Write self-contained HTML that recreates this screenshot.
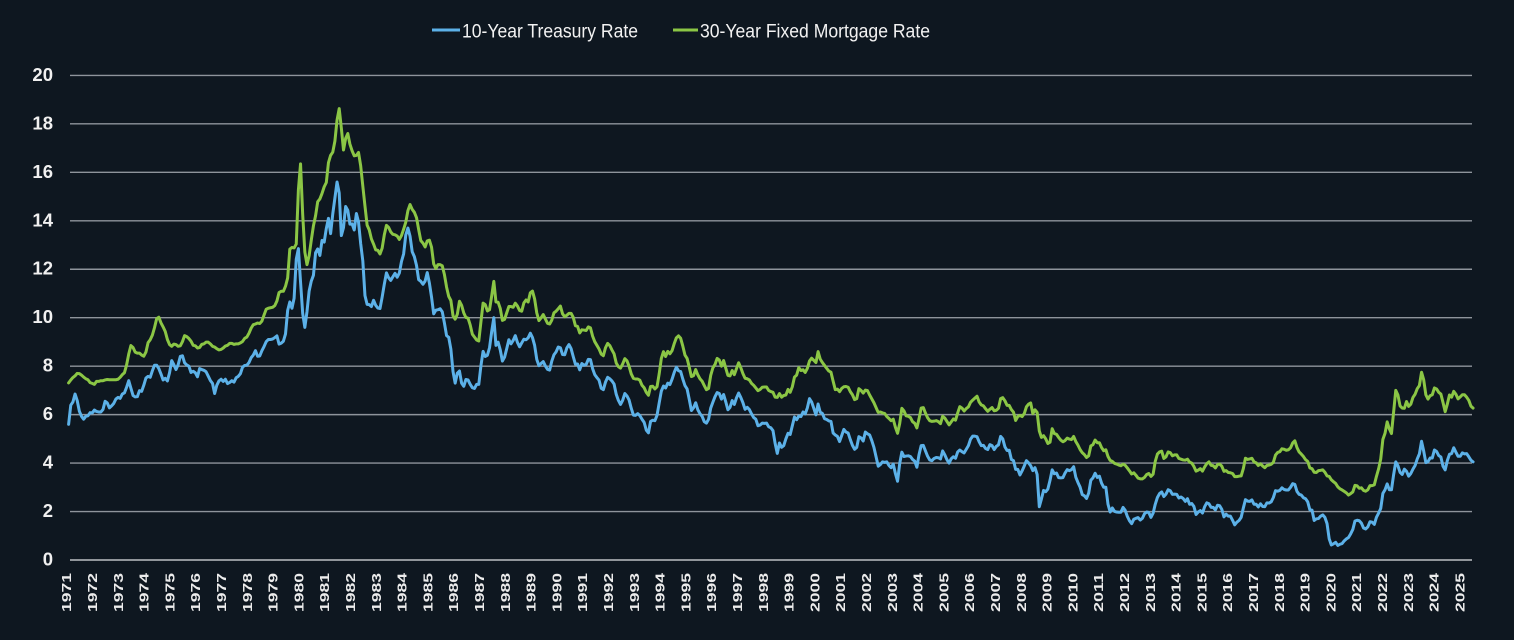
<!DOCTYPE html>
<html>
<head>
<meta charset="utf-8">
<style>
html,body{margin:0;padding:0;background:#0e1720;}
svg{display:block;}
.yl{font-family:"Liberation Sans",Arial,sans-serif;font-size:18.5px;font-weight:bold;fill:#f0f0f0;text-anchor:end;}
.xl{font-family:"Liberation Sans",Arial,sans-serif;font-size:12.5px;font-weight:bold;fill:#ececec;text-anchor:end;}
.lg{font-family:"Liberation Sans",Arial,sans-serif;font-size:19px;fill:#f2f2f2;}
</style>
</head>
<body>
<svg width="1514" height="640" viewBox="0 0 1514 640" xmlns="http://www.w3.org/2000/svg">
<rect x="0" y="0" width="1514" height="640" fill="#0e1720"/>

<!-- Legend -->
<line x1="432" y1="30" x2="460" y2="30" stroke="#5cb1e8" stroke-width="3"/>
<text class="lg" x="462" y="37.5" textLength="176" lengthAdjust="spacingAndGlyphs">10-Year Treasury Rate</text>
<line x1="673" y1="30" x2="698" y2="30" stroke="#8bc645" stroke-width="3"/>
<text class="lg" x="700" y="37.5" textLength="230" lengthAdjust="spacingAndGlyphs">30-Year Fixed Mortgage Rate</text>

<!-- Gridlines -->
<g stroke="#8e949b" stroke-width="1.4">
<line x1="70" y1="75.4" x2="1472" y2="75.4"/>
<line x1="70" y1="123.86" x2="1472" y2="123.86"/>
<line x1="70" y1="172.32" x2="1472" y2="172.32"/>
<line x1="70" y1="220.78" x2="1472" y2="220.78"/>
<line x1="70" y1="269.24" x2="1472" y2="269.24"/>
<line x1="70" y1="317.7" x2="1472" y2="317.7"/>
<line x1="70" y1="366.16" x2="1472" y2="366.16"/>
<line x1="70" y1="414.62" x2="1472" y2="414.62"/>
<line x1="70" y1="463.08" x2="1472" y2="463.08"/>
<line x1="70" y1="511.54" x2="1472" y2="511.54"/>
</g>
<line x1="70" y1="560" x2="1472" y2="560" stroke="#a4a8ad" stroke-width="1.8"/>

<!-- Y labels -->
<text class="yl" x="53" y="81">20</text>
<text class="yl" x="53" y="129.4">18</text>
<text class="yl" x="53" y="177.8">16</text>
<text class="yl" x="53" y="226.3">14</text>
<text class="yl" x="53" y="274.7">12</text>
<text class="yl" x="53" y="323.2">10</text>
<text class="yl" x="53" y="371.7">8</text>
<text class="yl" x="53" y="420.1">6</text>
<text class="yl" x="53" y="468.6">4</text>
<text class="yl" x="53" y="517">2</text>
<text class="yl" x="53" y="565.5">0</text>

<!-- X labels -->
<g>
<text class="xl" transform="translate(71.2,573) rotate(-90)" textLength="39" lengthAdjust="spacingAndGlyphs">1971</text>
<text class="xl" transform="translate(97.0,573) rotate(-90)" textLength="39" lengthAdjust="spacingAndGlyphs">1972</text>
<text class="xl" transform="translate(122.8,573) rotate(-90)" textLength="39" lengthAdjust="spacingAndGlyphs">1973</text>
<text class="xl" transform="translate(148.6,573) rotate(-90)" textLength="39" lengthAdjust="spacingAndGlyphs">1974</text>
<text class="xl" transform="translate(174.4,573) rotate(-90)" textLength="39" lengthAdjust="spacingAndGlyphs">1975</text>
<text class="xl" transform="translate(200.2,573) rotate(-90)" textLength="39" lengthAdjust="spacingAndGlyphs">1976</text>
<text class="xl" transform="translate(226.0,573) rotate(-90)" textLength="39" lengthAdjust="spacingAndGlyphs">1977</text>
<text class="xl" transform="translate(251.8,573) rotate(-90)" textLength="39" lengthAdjust="spacingAndGlyphs">1978</text>
<text class="xl" transform="translate(277.6,573) rotate(-90)" textLength="39" lengthAdjust="spacingAndGlyphs">1979</text>
<text class="xl" transform="translate(303.4,573) rotate(-90)" textLength="39" lengthAdjust="spacingAndGlyphs">1980</text>
<text class="xl" transform="translate(329.2,573) rotate(-90)" textLength="39" lengthAdjust="spacingAndGlyphs">1981</text>
<text class="xl" transform="translate(355.0,573) rotate(-90)" textLength="39" lengthAdjust="spacingAndGlyphs">1982</text>
<text class="xl" transform="translate(380.8,573) rotate(-90)" textLength="39" lengthAdjust="spacingAndGlyphs">1983</text>
<text class="xl" transform="translate(406.6,573) rotate(-90)" textLength="39" lengthAdjust="spacingAndGlyphs">1984</text>
<text class="xl" transform="translate(432.4,573) rotate(-90)" textLength="39" lengthAdjust="spacingAndGlyphs">1985</text>
<text class="xl" transform="translate(458.2,573) rotate(-90)" textLength="39" lengthAdjust="spacingAndGlyphs">1986</text>
<text class="xl" transform="translate(484.0,573) rotate(-90)" textLength="39" lengthAdjust="spacingAndGlyphs">1987</text>
<text class="xl" transform="translate(509.8,573) rotate(-90)" textLength="39" lengthAdjust="spacingAndGlyphs">1988</text>
<text class="xl" transform="translate(535.6,573) rotate(-90)" textLength="39" lengthAdjust="spacingAndGlyphs">1989</text>
<text class="xl" transform="translate(561.4,573) rotate(-90)" textLength="39" lengthAdjust="spacingAndGlyphs">1990</text>
<text class="xl" transform="translate(587.2,573) rotate(-90)" textLength="39" lengthAdjust="spacingAndGlyphs">1991</text>
<text class="xl" transform="translate(613.0,573) rotate(-90)" textLength="39" lengthAdjust="spacingAndGlyphs">1992</text>
<text class="xl" transform="translate(638.8,573) rotate(-90)" textLength="39" lengthAdjust="spacingAndGlyphs">1993</text>
<text class="xl" transform="translate(664.6,573) rotate(-90)" textLength="39" lengthAdjust="spacingAndGlyphs">1994</text>
<text class="xl" transform="translate(690.4,573) rotate(-90)" textLength="39" lengthAdjust="spacingAndGlyphs">1995</text>
<text class="xl" transform="translate(716.2,573) rotate(-90)" textLength="39" lengthAdjust="spacingAndGlyphs">1996</text>
<text class="xl" transform="translate(742.0,573) rotate(-90)" textLength="39" lengthAdjust="spacingAndGlyphs">1997</text>
<text class="xl" transform="translate(767.8,573) rotate(-90)" textLength="39" lengthAdjust="spacingAndGlyphs">1998</text>
<text class="xl" transform="translate(793.6,573) rotate(-90)" textLength="39" lengthAdjust="spacingAndGlyphs">1999</text>
<text class="xl" transform="translate(819.4,573) rotate(-90)" textLength="39" lengthAdjust="spacingAndGlyphs">2000</text>
<text class="xl" transform="translate(845.2,573) rotate(-90)" textLength="39" lengthAdjust="spacingAndGlyphs">2001</text>
<text class="xl" transform="translate(871.0,573) rotate(-90)" textLength="39" lengthAdjust="spacingAndGlyphs">2002</text>
<text class="xl" transform="translate(896.8,573) rotate(-90)" textLength="39" lengthAdjust="spacingAndGlyphs">2003</text>
<text class="xl" transform="translate(922.6,573) rotate(-90)" textLength="39" lengthAdjust="spacingAndGlyphs">2004</text>
<text class="xl" transform="translate(948.4,573) rotate(-90)" textLength="39" lengthAdjust="spacingAndGlyphs">2005</text>
<text class="xl" transform="translate(974.2,573) rotate(-90)" textLength="39" lengthAdjust="spacingAndGlyphs">2006</text>
<text class="xl" transform="translate(1000.0,573) rotate(-90)" textLength="39" lengthAdjust="spacingAndGlyphs">2007</text>
<text class="xl" transform="translate(1025.8,573) rotate(-90)" textLength="39" lengthAdjust="spacingAndGlyphs">2008</text>
<text class="xl" transform="translate(1051.6,573) rotate(-90)" textLength="39" lengthAdjust="spacingAndGlyphs">2009</text>
<text class="xl" transform="translate(1077.4,573) rotate(-90)" textLength="39" lengthAdjust="spacingAndGlyphs">2010</text>
<text class="xl" transform="translate(1103.2,573) rotate(-90)" textLength="39" lengthAdjust="spacingAndGlyphs">2011</text>
<text class="xl" transform="translate(1129.0,573) rotate(-90)" textLength="39" lengthAdjust="spacingAndGlyphs">2012</text>
<text class="xl" transform="translate(1154.8,573) rotate(-90)" textLength="39" lengthAdjust="spacingAndGlyphs">2013</text>
<text class="xl" transform="translate(1180.6,573) rotate(-90)" textLength="39" lengthAdjust="spacingAndGlyphs">2014</text>
<text class="xl" transform="translate(1206.4,573) rotate(-90)" textLength="39" lengthAdjust="spacingAndGlyphs">2015</text>
<text class="xl" transform="translate(1232.2,573) rotate(-90)" textLength="39" lengthAdjust="spacingAndGlyphs">2016</text>
<text class="xl" transform="translate(1258.0,573) rotate(-90)" textLength="39" lengthAdjust="spacingAndGlyphs">2017</text>
<text class="xl" transform="translate(1283.8,573) rotate(-90)" textLength="39" lengthAdjust="spacingAndGlyphs">2018</text>
<text class="xl" transform="translate(1309.6,573) rotate(-90)" textLength="39" lengthAdjust="spacingAndGlyphs">2019</text>
<text class="xl" transform="translate(1335.4,573) rotate(-90)" textLength="39" lengthAdjust="spacingAndGlyphs">2020</text>
<text class="xl" transform="translate(1361.2,573) rotate(-90)" textLength="39" lengthAdjust="spacingAndGlyphs">2021</text>
<text class="xl" transform="translate(1387.0,573) rotate(-90)" textLength="39" lengthAdjust="spacingAndGlyphs">2022</text>
<text class="xl" transform="translate(1412.8,573) rotate(-90)" textLength="39" lengthAdjust="spacingAndGlyphs">2023</text>
<text class="xl" transform="translate(1438.6,573) rotate(-90)" textLength="39" lengthAdjust="spacingAndGlyphs">2024</text>
<text class="xl" transform="translate(1464.4,573) rotate(-90)" textLength="39" lengthAdjust="spacingAndGlyphs">2025</text>
</g>

<!-- Series: x unit = month index from Jan 1971, y unit = percent -->
<g transform="translate(62.17,560) scale(2.1475,-24.23)">
<polyline fill="none" stroke="#5cb1e8" stroke-width="3" vector-effect="non-scaling-stroke" stroke-linejoin="round" stroke-linecap="round" points="
3,5.6 4,6.39 5,6.52 6,6.85 7,6.58 8,6.14 9,5.93 10,5.81 11,5.93
12,5.95 13,6.08 14,6.07 15,6.19 16,6.13 17,6.11 18,6.11 19,6.21 20,6.55 21,6.48 22,6.28 23,6.36
24,6.46 25,6.64 26,6.71 27,6.67 28,6.85 29,6.90 30,7.13 31,7.40 32,7.09 33,6.79 34,6.73 35,6.74
36,6.99 37,6.96 38,7.21 39,7.51 40,7.58 41,7.54 42,7.81 43,8.04 44,8.04 45,7.90 46,7.68 47,7.43
48,7.50 49,7.39 50,7.73 51,8.23 52,8.06 53,7.86 54,8.06 55,8.40 56,8.43 57,8.14 58,8.05 59,8.00
60,7.74 61,7.79 62,7.73 63,7.56 64,7.90 65,7.86 66,7.83 67,7.77 68,7.59 69,7.41 70,7.29 71,6.87
72,7.21 73,7.39 74,7.46 75,7.37 76,7.46 77,7.28 78,7.33 79,7.40 80,7.34 81,7.52 82,7.58 83,7.69
84,7.96 85,8.03 86,8.04 87,8.15 88,8.35 89,8.46 90,8.64 91,8.41 92,8.42 93,8.64 94,8.81 95,9.01
96,9.10 97,9.10 98,9.12 99,9.18 100,9.25 101,8.91 102,8.95 103,9.03 104,9.33 105,10.30 106,10.65 107,10.39
108,10.80 109,12.41 110,12.85 111,11.47 112,10.18 113,9.60 114,10.25 115,11.10 116,11.51 117,11.75 118,12.68 119,12.84
120,12.57 121,13.19 122,13.12 123,13.68 124,14.10 125,13.47 126,14.28 127,14.94 128,15.6 129,15.15 130,13.39 131,13.72
132,14.59 133,14.43 134,13.86 135,13.87 136,13.62 137,14.30 138,13.95 139,13.06 140,12.34 141,10.91 142,10.55 143,10.54
144,10.46 145,10.72 146,10.51 147,10.40 148,10.38 149,10.85 150,11.38 151,11.85 152,11.65 153,11.54 154,11.69 155,11.83
156,11.67 157,11.84 158,12.32 159,12.63 160,13.41 161,13.7 162,13.36 163,12.72 164,12.52 165,12.16 166,11.57 167,11.50
168,11.38 169,11.51 170,11.86 171,11.43 172,10.85 173,10.16 174,10.31 175,10.33 176,10.37 177,10.24 178,9.78 179,9.26
180,9.19 181,8.70 182,7.78 183,7.30 184,7.71 185,7.80 186,7.30 187,7.17 188,7.45 189,7.43 190,7.25 191,7.11
192,7.08 193,7.25 194,7.25 195,8.02 196,8.61 197,8.40 198,8.45 199,8.76 200,9.42 201,10.0 202,8.86 203,8.99
204,8.67 205,8.21 206,8.37 207,8.72 208,9.09 209,8.92 210,9.06 211,9.26 212,8.98 213,8.80 214,8.96 215,9.11
216,9.09 217,9.17 218,9.36 219,9.18 220,8.86 221,8.28 222,8.02 223,8.11 224,8.19 225,8.01 226,7.87 227,7.84
228,8.21 229,8.47 230,8.59 231,8.79 232,8.76 233,8.48 234,8.47 235,8.75 236,8.89 237,8.72 238,8.39 239,8.08
240,8.09 241,7.85 242,8.11 243,8.04 244,8.07 245,8.28 246,8.27 247,7.90 248,7.65 249,7.53 250,7.42 251,7.09
252,7.03 253,7.34 254,7.54 255,7.48 256,7.39 257,7.26 258,6.84 259,6.59 260,6.42 261,6.59 262,6.87 263,6.77
264,6.60 265,6.26 266,5.98 267,5.97 268,6.04 269,5.96 270,5.81 271,5.68 272,5.36 273,5.25 274,5.72 275,5.77
276,5.75 277,5.97 278,6.48 279,6.97 280,7.18 281,7.10 282,7.30 283,7.24 284,7.46 285,7.74 286,7.96 287,7.81
288,7.78 289,7.47 290,7.20 291,7.06 292,6.63 293,6.17 294,6.28 295,6.49 296,6.20 297,6.04 298,5.93 299,5.71
300,5.65 301,5.81 302,6.27 303,6.51 304,6.74 305,6.91 306,6.87 307,6.64 308,6.83 309,6.53 310,6.20 311,6.30
312,6.58 313,6.42 314,6.69 315,6.89 316,6.71 317,6.49 318,6.22 319,6.30 320,6.21 321,6.03 322,5.88 323,5.81
324,5.54 325,5.57 326,5.65 327,5.64 328,5.65 329,5.50 330,5.46 331,5.34 332,4.81 333,4.40 334,4.83 335,4.65
336,4.72 337,5.00 338,5.23 339,5.18 340,5.54 341,5.90 342,5.79 343,5.94 344,5.92 345,6.11 346,6.03 347,6.28
348,6.66 349,6.52 350,6.26 351,5.99 352,6.44 353,6.10 354,6.05 355,5.83 356,5.80 357,5.74 358,5.72 359,5.24
360,5.16 361,5.10 362,4.89 363,5.14 364,5.39 365,5.28 366,5.24 367,4.97 368,4.73 369,4.57 370,4.65 371,5.09
372,5.04 373,4.91 374,5.28 375,5.21 376,5.16 377,4.93 378,4.65 379,4.26 380,3.87 381,3.94 382,4.05 383,4.03
384,4.05 385,3.90 386,3.81 387,3.96 388,3.57 389,3.25 390,3.98 391,4.45 392,4.27 393,4.29 394,4.30 395,4.27
396,4.15 397,4.08 398,3.83 399,4.35 400,4.72 401,4.73 402,4.50 403,4.28 404,4.13 405,4.10 406,4.19 407,4.23
408,4.22 409,4.17 410,4.50 411,4.34 412,4.14 413,4.00 414,4.18 415,4.26 416,4.20 417,4.46 418,4.54 419,4.47
420,4.42 421,4.57 422,4.72 423,4.99 424,5.11 425,5.11 426,5.09 427,4.88 428,4.72 429,4.73 430,4.60 431,4.56
432,4.76 433,4.72 434,4.56 435,4.69 436,4.75 437,5.10 438,5.00 439,4.67 440,4.52 441,4.53 442,4.15 443,4.10
444,3.74 445,3.74 446,3.51 447,3.68 448,3.88 449,4.10 450,4.01 451,3.89 452,3.69 453,3.81 454,3.53 455,2.20
456,2.52 457,2.87 458,2.82 459,2.93 460,3.29 461,3.72 462,3.56 463,3.59 464,3.40 465,3.39 466,3.40 467,3.59
468,3.73 469,3.69 470,3.73 471,3.85 472,3.42 473,3.20 474,3.01 475,2.70 476,2.65 477,2.54 478,2.76 479,3.29
480,3.39 481,3.58 482,3.41 483,3.46 484,3.17 485,3.00 486,3.00 487,2.30 488,1.98 489,2.15 490,2.01 491,1.98
492,1.97 493,1.97 494,2.17 495,2.05 496,1.80 497,1.62 498,1.50 499,1.68 500,1.72 501,1.75 502,1.65 503,1.72
504,1.91 505,1.98 506,1.96 507,1.76 508,1.93 509,2.30 510,2.58 511,2.74 512,2.81 513,2.62 514,2.72 515,2.90
516,2.86 517,2.71 518,2.72 519,2.71 520,2.56 521,2.60 522,2.54 523,2.42 524,2.53 525,2.30 526,2.33 527,2.21
528,1.88 529,1.98 530,2.04 531,1.94 532,2.20 533,2.36 534,2.32 535,2.17 536,2.17 537,2.07 538,2.26 539,2.24
540,2.09 541,1.78 542,1.89 543,1.81 544,1.81 545,1.64 546,1.45 547,1.56 548,1.63 549,1.76 550,2.14 551,2.49
552,2.43 553,2.42 554,2.48 555,2.30 556,2.30 557,2.19 558,2.32 559,2.21 560,2.20 561,2.36 562,2.35 563,2.40
564,2.58 565,2.86 566,2.84 567,2.87 568,2.98 569,2.91 570,2.89 571,2.89 572,3.00 573,3.15 574,3.12 575,2.83
576,2.71 577,2.68 578,2.57 579,2.53 580,2.40 581,2.07 582,2.06 583,1.63 584,1.70 585,1.71 586,1.81 587,1.86
588,1.76 589,1.50 590,0.87 591,0.62 592,0.67 593,0.73 594,0.60 595,0.65 596,0.68 597,0.79 598,0.87 599,0.93
600,1.08 601,1.26 602,1.61 603,1.64 604,1.62 605,1.52 606,1.32 607,1.28 608,1.37 609,1.58 610,1.56 611,1.47
612,1.76 613,1.93 614,2.13 615,2.75 616,2.90 617,3.14 618,2.90 619,2.90 620,3.52 621,4.05 622,3.89 623,3.62
624,3.53 625,3.75 626,3.66 627,3.46 628,3.57 629,3.75 630,3.90 631,4.17 632,4.38 633,4.9 634,4.50 635,4.02
636,4.06 637,4.21 638,4.21 639,4.54 640,4.48 641,4.31 642,4.25 643,3.87 644,3.72 645,4.10 646,4.36 647,4.39
648,4.63 649,4.45 650,4.28 651,4.28 652,4.42 653,4.38 654,4.39 655,4.26 656,4.12 657,4.05"/>

<polyline fill="none" stroke="#8bc645" stroke-width="3" vector-effect="non-scaling-stroke" stroke-linejoin="round" stroke-linecap="round" points="
3,7.31 4,7.43 5,7.53 6,7.60 7,7.70 8,7.69 9,7.63 10,7.55 11,7.48
12,7.44 13,7.32 14,7.29 15,7.25 16,7.37 17,7.37 18,7.40 19,7.40 20,7.43 21,7.45 22,7.44 23,7.44
24,7.44 25,7.44 26,7.46 27,7.54 28,7.65 29,7.73 30,8.05 31,8.50 32,8.85 33,8.77 34,8.58 35,8.54
36,8.54 37,8.46 38,8.41 39,8.58 40,8.97 41,9.09 42,9.28 43,9.59 44,9.96 45,10.02 46,9.79 47,9.62
48,9.43 49,9.10 50,8.89 51,8.82 52,8.91 53,8.89 54,8.82 55,8.84 56,9.01 57,9.26 58,9.22 59,9.14
60,9.03 61,8.86 62,8.84 63,8.75 64,8.77 65,8.90 66,8.92 67,8.99 68,8.99 69,8.92 70,8.82 71,8.79
72,8.72 73,8.67 74,8.69 75,8.75 76,8.83 77,8.86 78,8.94 79,8.94 80,8.90 81,8.92 82,8.92 83,8.96
84,9.02 85,9.15 86,9.20 87,9.36 88,9.57 89,9.71 90,9.74 91,9.78 92,9.76 93,9.86 94,10.11 95,10.35
96,10.39 97,10.41 98,10.43 99,10.50 100,10.69 101,11.04 102,11.09 103,11.09 104,11.30 105,11.64 106,12.83 107,12.90
108,12.88 109,13.04 110,15.28 111,16.35 112,14.26 113,12.71 114,12.19 115,12.56 116,13.20 117,13.79 118,14.21 119,14.79
120,14.90 121,15.13 122,15.40 123,15.58 124,16.40 125,16.70 126,16.83 127,17.29 128,18.16 129,18.63 130,17.83 131,16.92
132,17.40 133,17.60 134,17.16 135,16.89 136,16.68 137,16.70 138,16.82 139,16.27 140,15.43 141,14.61 142,13.82 143,13.62
144,13.25 145,13.04 146,12.80 147,12.78 148,12.63 149,12.87 150,13.42 151,13.81 152,13.73 153,13.54 154,13.44 155,13.42
156,13.37 157,13.23 158,13.39 159,13.65 160,13.94 161,14.42 162,14.67 163,14.47 164,14.35 165,14.13 166,13.64 167,13.18
168,13.08 169,12.92 170,13.17 171,13.20 172,12.91 173,12.22 174,12.03 175,12.19 176,12.19 177,12.14 178,11.78 179,11.26
180,10.88 181,10.71 182,10.08 183,9.94 184,10.14 185,10.68 186,10.51 187,10.20 188,10.01 189,9.98 190,9.70 191,9.32
192,9.20 193,9.08 194,9.04 195,9.83 196,10.60 197,10.54 198,10.28 199,10.33 200,10.89 201,11.5 202,10.65 203,10.64
204,10.38 205,9.89 206,9.93 207,10.20 208,10.46 209,10.46 210,10.43 211,10.60 212,10.48 213,10.30 214,10.27 215,10.61
216,10.73 217,10.65 218,11.03 219,11.1 220,10.77 221,10.20 222,9.88 223,9.99 224,10.13 225,9.95 226,9.77 227,9.74
228,9.90 229,10.20 230,10.27 231,10.37 232,10.48 233,10.16 234,10.04 235,10.10 236,10.18 237,10.18 238,10.01 239,9.67
240,9.64 241,9.37 242,9.50 243,9.49 244,9.47 245,9.62 246,9.58 247,9.24 248,9.01 249,8.86 250,8.71 251,8.50
252,8.43 253,8.76 254,8.94 255,8.85 256,8.67 257,8.51 258,8.13 259,7.98 260,7.92 261,8.09 262,8.31 263,8.22
264,7.99 265,7.68 266,7.50 267,7.47 268,7.47 269,7.42 270,7.21 271,7.11 272,6.92 273,6.80 274,7.16 275,7.17
276,7.06 277,7.15 278,7.68 279,8.32 280,8.60 281,8.40 282,8.61 283,8.51 284,8.64 285,8.93 286,9.17 287,9.25
288,9.15 289,8.83 290,8.46 291,8.32 292,7.96 293,7.57 294,7.61 295,7.86 296,7.64 297,7.48 298,7.38 299,7.20
300,7.03 301,7.08 302,7.62 303,7.93 304,8.07 305,8.32 306,8.25 307,8.00 308,8.23 309,7.92 310,7.62 311,7.60
312,7.82 313,7.65 314,7.90 315,8.14 316,7.94 317,7.69 318,7.50 319,7.48 320,7.43 321,7.29 322,7.21 323,7.10
324,6.99 325,7.04 326,7.13 327,7.14 328,7.14 329,7.00 330,6.95 331,6.92 332,6.72 333,6.71 334,6.87 335,6.72
336,6.79 337,6.81 338,7.04 339,6.92 340,7.15 341,7.55 342,7.63 343,7.94 344,7.82 345,7.85 346,7.74 347,7.91
348,8.21 349,8.33 350,8.24 351,8.15 352,8.6 353,8.29 354,8.15 355,8.03 356,7.91 357,7.80 358,7.75 359,7.38
360,7.03 361,7.05 362,6.95 363,7.08 364,7.15 365,7.16 366,7.13 367,6.95 368,6.82 369,6.62 370,6.66 371,7.07
372,7.00 373,6.89 374,7.01 375,6.99 376,6.81 377,6.65 378,6.49 379,6.29 380,6.09 381,6.11 382,6.07 383,6.05
384,5.92 385,5.84 386,5.75 387,5.81 388,5.48 389,5.23 390,5.63 391,6.26 392,6.15 393,5.95 394,5.93 395,5.88
396,5.71 397,5.64 398,5.45 399,5.83 400,6.27 401,6.29 402,6.06 403,5.87 404,5.75 405,5.72 406,5.73 407,5.75
408,5.71 409,5.63 410,5.93 411,5.86 412,5.72 413,5.58 414,5.70 415,5.82 416,5.77 417,6.07 418,6.33 419,6.27
420,6.15 421,6.25 422,6.32 423,6.51 424,6.60 425,6.68 426,6.76 427,6.52 428,6.40 429,6.36 430,6.24 431,6.14
432,6.22 433,6.29 434,6.16 435,6.18 436,6.26 437,6.66 438,6.70 439,6.57 440,6.38 441,6.38 442,6.21 443,6.10
444,5.76 445,5.92 446,5.97 447,5.92 448,6.04 449,6.32 450,6.43 451,6.48 452,6.04 453,6.20 454,6.09 455,5.33
456,5.06 457,5.13 458,5.00 459,4.81 460,4.86 461,5.42 462,5.22 463,5.19 464,5.06 465,4.95 466,4.88 467,4.93
468,5.03 469,4.99 470,4.97 471,5.10 472,4.89 473,4.74 474,4.56 475,4.43 476,4.35 477,4.23 478,4.30 479,4.71
480,4.76 481,4.95 482,4.84 483,4.84 484,4.64 485,4.51 486,4.55 487,4.27 488,4.11 489,4.07 490,3.99 491,3.96
492,3.92 493,3.89 494,3.95 495,3.91 496,3.80 497,3.68 498,3.55 499,3.60 500,3.50 501,3.38 502,3.35 503,3.35
504,3.41 505,3.53 506,3.57 507,3.45 508,3.54 509,4.07 510,4.37 511,4.46 512,4.49 513,4.19 514,4.26 515,4.46
516,4.43 517,4.30 518,4.34 519,4.34 520,4.19 521,4.16 522,4.13 523,4.12 524,4.16 525,4.04 526,4.00 527,3.86
528,3.67 529,3.71 530,3.77 531,3.67 532,3.84 533,3.98 534,4.05 535,3.91 536,3.89 537,3.80 538,3.94 539,3.96
540,3.87 541,3.66 542,3.69 543,3.61 544,3.60 545,3.57 546,3.44 547,3.44 548,3.46 549,3.47 550,3.77 551,4.20
552,4.15 553,4.17 554,4.20 555,4.05 556,4.01 557,3.90 558,3.97 559,3.88 560,3.81 561,3.90 562,3.92 563,3.95
564,4.03 565,4.33 566,4.44 567,4.47 568,4.59 569,4.57 570,4.53 571,4.55 572,4.63 573,4.83 574,4.92 575,4.64
576,4.46 577,4.37 578,4.27 579,4.14 580,4.07 581,3.80 582,3.77 583,3.62 584,3.61 585,3.69 586,3.70 587,3.72
588,3.62 589,3.47 590,3.45 591,3.31 592,3.23 593,3.16 594,3.02 595,2.94 596,2.89 597,2.83 598,2.77 599,2.68
600,2.74 601,2.81 602,3.08 603,3.06 604,2.96 605,2.98 606,2.87 607,2.84 608,2.90 609,3.07 610,3.07 611,3.10
612,3.45 613,3.76 614,4.17 615,4.98 616,5.23 617,5.70 618,5.41 619,5.22 620,6.11 621,7.0 622,6.81 623,6.36
624,6.27 625,6.26 626,6.54 627,6.34 628,6.43 629,6.71 630,6.84 631,7.07 632,7.20 633,7.75 634,7.44 635,6.82
636,6.64 637,6.78 638,6.82 639,7.1 640,7.06 641,6.92 642,6.85 643,6.50 644,6.12 645,6.43 646,6.81 647,6.72
648,6.96 649,6.84 650,6.65 651,6.73 652,6.82 653,6.82 654,6.72 655,6.59 656,6.35 657,6.27"/>
</g>
</svg>
</body>
</html>
